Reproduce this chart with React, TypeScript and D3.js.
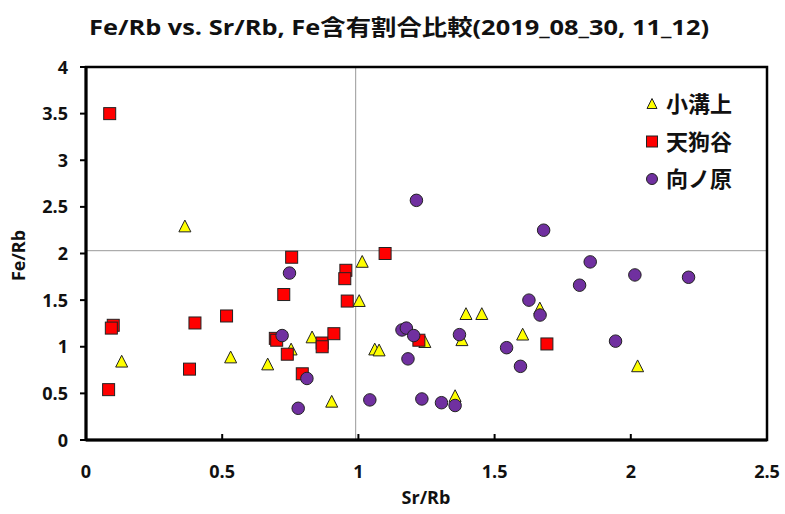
import React from "react";
import * as d3 from "d3";

const seriesNames = ["小溝上", "天狗谷", "向ノ原"];

const kosoSr = [0.363, 0.131, 0.531, 0.667, 0.753, 0.830, 0.902, 1.003, 1.014, 1.060, 1.076, 1.244, 1.355, 1.380, 1.395, 1.453, 1.603, 1.666, 2.025];
const kosoFe = [2.29, 0.84, 0.885, 0.81, 0.97, 1.10, 0.41, 1.49, 1.91, 0.97, 0.96, 1.05, 0.47, 1.07, 1.35, 1.35, 1.13, 1.41, 0.79];

const tenguSr = [0.087, 0.100, 0.093, 0.083, 0.400, 0.380, 0.516, 0.755, 0.726, 0.695, 0.700, 0.739, 0.794, 0.867, 0.867, 0.910, 0.954, 0.950, 0.959, 1.098, 1.222, 1.692];
const tenguFe = [3.50, 1.23, 1.20, 0.54, 1.255, 0.76, 1.33, 1.96, 1.56, 1.09, 1.07, 0.92, 0.71, 1.04, 1.00, 1.14, 1.82, 1.73, 1.49, 2.00, 1.07, 1.03];

const mukaiSr = [0.747, 0.720, 0.811, 0.779, 1.042, 1.213, 1.680, 1.160, 1.176, 1.203, 1.182, 1.371, 1.233, 1.305, 1.355, 1.544, 1.595, 1.626, 1.667, 1.851, 2.015, 2.212, 1.812, 1.944];
const mukaiFe = [1.79, 1.12, 0.66, 0.34, 0.43, 2.57, 2.25, 1.18, 1.20, 1.12, 0.87, 1.13, 0.44, 0.40, 0.37, 0.99, 0.79, 1.50, 1.34, 1.91, 1.77, 1.745, 1.66, 1.06];

const xTicks = [0, 0.5, 1, 1.5, 2, 2.5];
const yTicks = [0, 0.5, 1, 1.5, 2, 2.5, 3, 3.5, 4];
const refSr = 0.99;
const refFe = 2.03;

const W = 785;
const H = 514;
const left = 86;
const right = 767;
const top = 67;
const bottom = 440;

const font = "'Open Sans', 'Noto Sans CJK JP', sans-serif";

function Marker({ kind, x, y, s }: { kind: number; x: number; y: number; s: number }) {
  if (kind === 0) {
    const h = s * 0.9;
    const p = `M${x},${y - h / 2 - 1} L${x + s / 2},${y + h / 2} L${x - s / 2},${y + h / 2} Z`;
    return <path d={p} fill="#FFFF00" stroke="#222" strokeWidth={1} />;
  }
  if (kind === 1) {
    return <rect x={x - s / 2} y={y - s / 2} width={s} height={s} fill="#FF0000" stroke="#222" strokeWidth={1} />;
  }
  return <circle cx={x} cy={y} r={s / 2} fill="#7030A0" stroke="#222" strokeWidth={1} />;
}

export default function App() {
  const x = d3.scaleLinear().domain([0, 2.5]).range([left, right]);
  const y = d3.scaleLinear().domain([0, 4]).range([bottom, top]);

  const series = [
    { sr: kosoSr, fe: kosoFe, kind: 0, size: 12 },
    { sr: tenguSr, fe: tenguFe, kind: 1, size: 12 },
    { sr: mukaiSr, fe: mukaiFe, kind: 2, size: 12.5 },
  ];

  return (
    <svg width={W} height={H} style={{ position: "absolute", left: 0, top: 0, background: "#fff" }}>
      <rect x={0} y={0} width={W} height={H} fill="#fff" />
      <text x={399} y={35} textAnchor="middle" fontFamily={font} fontWeight="bold" fontSize={22} textLength={620} lengthAdjust="spacingAndGlyphs" fill="#111">
        Fe/Rb vs. Sr/Rb, Fe含有割合比較(2019_08_30, 11_12)
      </text>

      {/* reference lines */}
      <line x1={x(refSr)} x2={x(refSr)} y1={top} y2={bottom} stroke="#999" strokeWidth={1} />
      <line x1={left} x2={right} y1={y(refFe)} y2={y(refFe)} stroke="#999" strokeWidth={1} />

      {/* frame */}
      <rect x={left} y={top} width={right - left} height={bottom - top} fill="none" stroke="#000" strokeWidth={2.5} />
      <line x1={left} x2={left} y1={top} y2={bottom} stroke="#000" strokeWidth={3} />
      <line x1={left} x2={right} y1={bottom} y2={bottom} stroke="#000" strokeWidth={3} />

      {yTicks.map((t) => (
        <g key={"y" + t}>
          <line x1={left - 6} x2={left} y1={y(t)} y2={y(t)} stroke="#000" strokeWidth={2} />
          <text x={68} y={y(t) + 6.5} textAnchor="end" fontFamily={font} fontWeight="bold" fontSize={18} fill="#111">
            {t}
          </text>
        </g>
      ))}
      {xTicks.map((t) => (
        <g key={"x" + t}>
          {t > 0 && t < 2.5 && <line x1={x(t)} x2={x(t)} y1={bottom - 6} y2={bottom} stroke="#000" strokeWidth={2} />}
          <text x={x(t)} y={478} textAnchor="middle" fontFamily={font} fontWeight="bold" fontSize={18} fill="#111">
            {t}
          </text>
        </g>
      ))}

      <text x={426} y={504} textAnchor="middle" fontFamily={font} fontWeight="bold" fontSize={18} fill="#111">
        Sr/Rb
      </text>
      <text transform={`translate(25,${(top + bottom) / 2 + 2}) rotate(-90)`} textAnchor="middle" fontFamily={font} fontWeight="bold" fontSize={18} fill="#111">
        Fe/Rb
      </text>

      {series.map((s, i) => (
        <g key={i}>
          {s.sr.map((v, j) => (
            <Marker key={j} kind={s.kind} x={x(v)} y={y(s.fe[j])} s={s.size} />
          ))}
        </g>
      ))}

      {seriesNames.map((n, i) => (
        <g key={n}>
          <Marker kind={i} x={652} y={104 + i * 37.5} s={i === 0 ? 10 : 11} />
          <text x={666} y={112 + i * 37.5} fontFamily="'Noto Sans CJK JP', sans-serif" fontWeight="bold" fontSize={22} fill="#111">
            {n}
          </text>
        </g>
      ))}
    </svg>
  );
}
